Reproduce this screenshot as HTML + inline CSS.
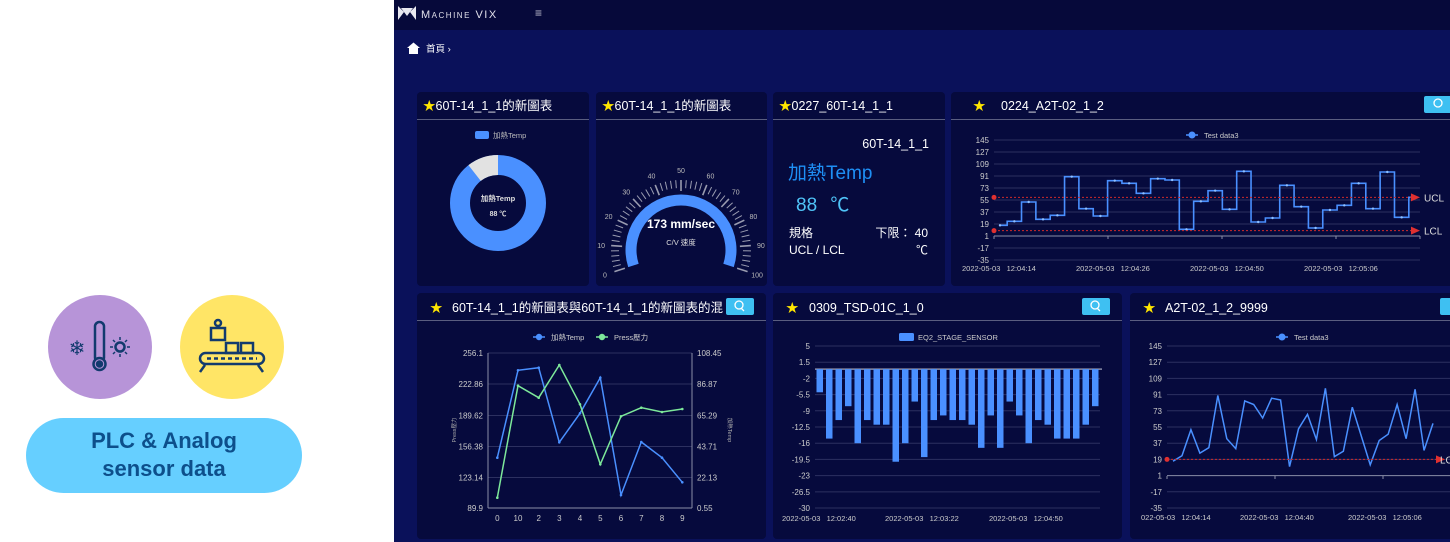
<!DOCTYPE html>
<html><head><meta charset="utf-8">
<style>
html,body{margin:0;padding:0;width:1450px;height:542px;overflow:hidden;background:#fff}
svg{display:block}
text{font-family:"Liberation Sans","Noto Sans CJK TC",sans-serif;white-space:pre}
</style></head>
<body>
<svg id="s" width="1450" height="542" viewBox="0 0 1450 542" xmlns="http://www.w3.org/2000/svg">
<rect x="0" y="0" width="394" height="542" fill="#fff"/>
<!-- left panel -->
<circle cx="100" cy="347" r="52" fill="#b794d8"/>
<circle cx="232" cy="347" r="52" fill="#ffe566"/>
<g stroke="#123a6e" stroke-width="2.5" fill="none">
<rect x="95" y="322" width="9" height="40" rx="4.5"/>
<circle cx="99.5" cy="364" r="6" fill="#b794d8"/>
<circle cx="99.5" cy="364" r="2.5" fill="#123a6e"/>
<circle cx="120" cy="347" r="4.5"/>
</g>
<g stroke="#123a6e" stroke-width="1.5">
<path d="M120 337 V340 M120 354 V357 M110 347 H113 M127 347 H130 M113 340 L115 342 M125 352 L127 354 M127 340 L125 342 M113 354 L115 352"/>
</g>
<text x="77" y="355" font-size="20" fill="#123a6e" text-anchor="middle">❄</text>
<g stroke="#123a6e" stroke-width="2.5" fill="none">
<rect x="211" y="328" width="14" height="12"/>
<rect x="226" y="343" width="12" height="10"/>
<rect x="241" y="343" width="12" height="10"/>
<rect x="200" y="353" width="64" height="11" rx="5.5"/>
<line x1="207" y1="358.5" x2="257" y2="358.5" stroke-dasharray="4 3"/>
<path d="M205 365 L200 372 M258 365 L263 372"/>
<circle cx="218" cy="323" r="3"/>
</g>
<rect x="26" y="418" width="276" height="75" rx="37.5" fill="#66cfff"/>
<text x="164" y="448" font-size="22" font-weight="bold" fill="#0d4f8b" text-anchor="middle">PLC &amp; Analog</text>
<text x="164" y="476" font-size="22" font-weight="bold" fill="#0d4f8b" text-anchor="middle">sensor data</text>

<!-- dashboard bg -->
<rect x="394" y="0" width="1056" height="542" fill="#0a115a"/>
<rect x="394" y="0" width="1056" height="30" fill="#06093a"/>
<path d="M398 6 L404 12 L398 20 Z M416 6 L410 12 L416 20 Z M401 8 L413 8 L407 16 Z" fill="#e8e8f0"/>
<text x="421" y="18" font-size="11" fill="#e0e0ea" letter-spacing="1.5">M<tspan font-size="8">ACHINE</tspan> VIX</text>
<text x="535" y="17" font-size="12" fill="#c0c0d0">≡</text>
<path d="M407 48 L413.5 42.5 L420 48 L418 48 L418 54 L409 54 L409 48 Z" fill="#fff"/>
<text x="426" y="52" font-size="9.5" fill="#fff">首頁 ›</text>

<!-- cards -->
<g fill="#060a3d">
<rect x="417" y="92" width="172" height="194" rx="4"/>
<rect x="596" y="92" width="171" height="194" rx="4"/>
<rect x="773" y="92" width="172" height="194" rx="4"/>
<rect x="951" y="92" width="505" height="194" rx="4"/>
<rect x="417" y="293" width="349" height="246" rx="4"/>
<rect x="773" y="293" width="349" height="246" rx="4"/>
<rect x="1130" y="293" width="326" height="246" rx="4"/>
</g>
<g stroke="#5a5e80" stroke-width="1">
<line x1="417" y1="119.5" x2="589" y2="119.5"/>
<line x1="596" y1="119.5" x2="767" y2="119.5"/>
<line x1="773" y1="119.5" x2="945" y2="119.5"/>
<line x1="951" y1="119.5" x2="1450" y2="119.5"/>
<line x1="417" y1="320.5" x2="766" y2="320.5"/>
<line x1="773" y1="320.5" x2="1122" y2="320.5"/>
<line x1="1130" y1="320.5" x2="1450" y2="320.5"/>
</g>
<g fill="#fff" font-size="12.5">
<text x="423" y="110"><tspan fill="#ffe600">★</tspan>60T-14_1_1的新圖表</text>
<text x="602" y="110"><tspan fill="#ffe600">★</tspan>60T-14_1_1的新圖表</text>
<text x="779" y="110"><tspan fill="#ffe600">★</tspan>0227_60T-14_1_1</text>
<text x="973" y="110"><tspan fill="#ffe600">★</tspan><tspan x="1001">0224_A2T-02_1_2</tspan></text>
<text x="430" y="312"><tspan fill="#ffe600">★</tspan><tspan x="452">60T-14_1_1的新圖表與60T-14_1_1的新圖表的混</tspan></text>
<text x="786" y="312"><tspan fill="#ffe600">★</tspan><tspan x="809">0309_TSD-01C_1_0</tspan></text>
<text x="1143" y="312"><tspan fill="#ffe600">★</tspan><tspan x="1165">A2T-02_1_2_9999</tspan></text>
</g>
<g fill="#3ec0f2">
<rect x="1424" y="96" width="30" height="17" rx="2"/>
<rect x="726" y="298" width="28" height="17" rx="2"/>
<rect x="1082" y="298" width="28" height="17" rx="2"/>
<rect x="1440" y="298" width="20" height="17" rx="2"/>
</g>
<g stroke="#fff" stroke-width="1.3" fill="none">
<circle cx="1438" cy="103" r="4"/><circle cx="739" cy="305" r="4"/><circle cx="1095" cy="305" r="4"/>
<path d="M741 308 L744 311 M1097 308 L1100 311"/>
</g>

<!-- card1 donut -->
<rect x="475" y="131" width="14" height="8" rx="2" fill="#4a90ff"/>
<text x="493" y="138" font-size="7.5" fill="#bbb">加熱Temp</text>
<circle cx="498" cy="203" r="38" fill="none" stroke="#4a90ff" stroke-width="20"/>
<path id="gray" fill="none" stroke="#e2e2e2" stroke-width="20"/>
<text x="498" y="201" font-size="7.5" font-weight="bold" fill="#ddd" text-anchor="middle">加熱Temp</text>
<text x="498" y="216" font-size="7" font-weight="bold" fill="#ddd" text-anchor="middle">88 ℃</text>

<!-- card2 gauge -->
<g id="gauge"></g>
<text x="681" y="228" font-size="12" font-weight="bold" fill="#fff" text-anchor="middle">173 mm/sec</text>
<text x="681" y="245" font-size="7.5" fill="#ddd" text-anchor="middle">C/V 速度</text>

<!-- card3 -->
<text x="929" y="148" font-size="12.5" fill="#fff" text-anchor="end">60T-14_1_1</text>
<text x="788" y="179" font-size="19" fill="#1e8ff5">加熱Temp</text>
<text x="796" y="211" font-size="19" fill="#4fc3f7">88 <tspan dx="8">℃</tspan></text>
<text x="789" y="237" font-size="12" fill="#fff">規格</text>
<text x="928" y="237" font-size="12" fill="#fff" text-anchor="end">下限： 40</text>
<text x="789" y="254" font-size="12" fill="#fff">UCL / LCL</text>
<text x="928" y="254" font-size="12" fill="#fff" text-anchor="end">℃</text>

<g id="dyn"></g>
</svg>
<script>
var NS="http://www.w3.org/2000/svg",D=document.getElementById('dyn');
function el(t,a,p,txt){var e=document.createElementNS(NS,t);for(var k in a)e.setAttribute(k,a[k]);if(txt!==undefined)e.textContent=txt;(p||D).appendChild(e);return e;}
(function(){var cx=498,cy=203,r=38,a1=-38*Math.PI/180;var x1=cx+r*Math.sin(a1),y1=cy-r*Math.cos(a1);
document.getElementById('gray').setAttribute('d','M'+x1+' '+y1+' A'+r+' '+r+' 0 0 1 '+cx+' '+(cy-r));})();
(function(){var G=document.getElementById('gauge'),cx=681,cy=250,span=216;
function pt(ang,r){var a=(ang-90)*Math.PI/180;return [cx+r*Math.cos(a),cy+r*Math.sin(a)];}
var st=-108,en=108,r=50;var p1=pt(st,r),p2=pt(en,r);
el('path',{d:'M'+p1+' A'+r+' '+r+' 0 1 1 '+p2,fill:'none',stroke:'#4a90ff','stroke-width':11},G);
for(var i=0;i<=50;i++){var a=st+span*i/50,big=i%5==0;var q1=pt(a,big?59:62),q2=pt(a,70);
el('line',{x1:q1[0],y1:q1[1],x2:q2[0],y2:q2[1],stroke:'#9a9cb0','stroke-width':big?1.6:1},G);}
for(var j=0;j<=10;j++){var a=st+span*j/10,q=pt(a,80);el('text',{x:q[0],y:q[1]+3,'font-size':7,fill:'#bbb','text-anchor':'middle'},G,''+j*10);}
})();
var data=[17,23,52,26,32,90,42,31,84,80,65,87,85,11,53,69,41,98,22,28,77,45,13,40,47,80,42,97,29,59];
(function(){var yv=function(v){return 140+(145-v)*0.6667;};var L=[145,127,109,91,73,55,37,19,1,-17,-35];
L.forEach(function(v){var y=yv(v);el('line',{x1:994,y1:y,x2:1420,y2:y,stroke:v==1?'#8a8ea8':'#2c3060','stroke-width':1});
el('text',{x:989,y:y+3,'font-size':8,fill:'#ccc','text-anchor':'end'},D,''+v);});
[994,1108,1222,1336,1420].forEach(function(x){el('line',{x1:x,y1:236,x2:x,y2:239,stroke:'#8a8ea8'});});
var x0=1000,dx=(1416-1000)/29,d='';
data.forEach(function(v,i){var x=x0+i*dx,y=yv(v);if(i==0)d='M'+x+' '+y;else{var xm=x-dx/2;d+=' H'+xm+' V'+y+' H'+x;}});
el('path',{d:d,fill:'none',stroke:'#4a90ff','stroke-width':1.6});
data.forEach(function(v,i){el('circle',{cx:x0+i*dx,cy:yv(v),r:1.2,fill:'#8fc0ff'});});
[[59,'UCL'],[9,'LCL']].forEach(function(u){var y=yv(u[0]);el('line',{x1:994,y1:y,x2:1414,y2:y,stroke:'#d02a2a','stroke-width':1,'stroke-dasharray':'2 2'});
el('circle',{cx:994,cy:y,r:2.5,fill:'#e03030'});el('path',{d:'M1411 '+(y-4)+' L1420 '+y+' L1411 '+(y+4)+' Z',fill:'#e03030'});
el('text',{x:1424,y:y+4,'font-size':10,fill:'#ddd'},D,u[1]);});
el('line',{x1:1186,y1:135,x2:1198,y2:135,stroke:'#4a90ff','stroke-width':1.5});el('circle',{cx:1192,cy:135,r:3.5,fill:'#4a90ff'});
el('text',{x:1204,y:138,'font-size':7.5,fill:'#ccc'},D,'Test data3');
[[962,'2022-05-03   12:04:14'],[1076,'2022-05-03   12:04:26'],[1190,'2022-05-03   12:04:50'],[1304,'2022-05-03   12:05:06']].forEach(function(t){el('text',{x:t[0],y:271,'font-size':7.5,fill:'#ccc',style:'white-space:pre'},D,t[1]);});
})();
(function(){var yv=function(v){return 346+(145-v)*0.9;};var L=[145,127,109,91,73,55,37,19,1,-17,-35];
L.forEach(function(v){var y=yv(v);el('line',{x1:1167,y1:y,x2:1450,y2:y,stroke:v==1?'#8a8ea8':'#2c3060'});
el('text',{x:1162,y:y+3,'font-size':8,fill:'#ccc','text-anchor':'end'},D,''+v);});
[1167,1275,1383].forEach(function(x){el('line',{x1:x,y1:476,x2:x,y2:479,stroke:'#8a8ea8'});});
var x0=1173,dx=(1433-1173)/29,pts=data.map(function(v,i){return (x0+i*dx)+','+yv(v);});
el('polyline',{points:pts.join(' '),fill:'none',stroke:'#4a90ff','stroke-width':1.5});
var y=yv(19);el('line',{x1:1167,y1:y,x2:1440,y2:y,stroke:'#d02a2a','stroke-dasharray':'2 2'});el('circle',{cx:1167,cy:y,r:2.5,fill:'#e03030'});
el('path',{d:'M1436 '+(y-4)+' L1445 '+y+' L1436 '+(y+4)+' Z',fill:'#e03030'});el('text',{x:1440,y:y+4,'font-size':10,fill:'#ddd'},D,'LCL');
el('line',{x1:1276,y1:337,x2:1288,y2:337,stroke:'#4a90ff','stroke-width':1.5});el('circle',{cx:1282,cy:337,r:3.5,fill:'#4a90ff'});
el('text',{x:1294,y:340,'font-size':7.5,fill:'#ccc'},D,'Test data3');
[[1141,'022-05-03   12:04:14'],[1240,'2022-05-03   12:04:40'],[1348,'2022-05-03   12:05:06']].forEach(function(t){el('text',{x:t[0],y:520,'font-size':7.5,fill:'#ccc',style:'white-space:pre'},D,t[1]);});
})();
(function(){var b=[-5,-15,-11,-8,-16,-11,-12,-12,-20,-16,-7,-19,-11,-10,-11,-11,-12,-17,-10,-17,-7,-10,-16,-11,-12,-15,-15,-15,-12,-8];
var yv=function(v){return 346+(5-v)*4.629;};[5,1.5,-2,-5.5,-9,-12.5,-16,-19.5,-23,-26.5,-30].forEach(function(v){var y=yv(v);
el('line',{x1:815,y1:y,x2:1100,y2:y,stroke:'#2c3060'});el('text',{x:810,y:y+3,'font-size':8,fill:'#ccc','text-anchor':'end'},D,''+v);});
el('line',{x1:815,y1:yv(0),x2:1102,y2:yv(0),stroke:'#8a8ea8','stroke-width':1.5});
var dx=(1100-815)/30;b.forEach(function(v,i){var x=815+i*dx+1.5;el('rect',{x:x,y:yv(0),width:dx-3,height:yv(v)-yv(0),fill:'#4a90ff'});});
el('rect',{x:899,y:333,width:15,height:8,rx:1.5,fill:'#4a90ff'});el('text',{x:918,y:340,'font-size':7.5,fill:'#ccc'},D,'EQ2_STAGE_SENSOR');
[[782,'2022-05-03   12:02:40'],[885,'2022-05-03   12:03:22'],[989,'2022-05-03   12:04:50']].forEach(function(t){el('text',{x:t[0],y:521,'font-size':7.5,fill:'#ccc',style:'white-space:pre'},D,t[1]);});
})();
(function(){var ys=[353,384,415.5,446.5,477.5,508],Ll=['256.1','222.86','189.62','156.38','123.14','89.9'],Rl=['108.45','86.87','65.29','43.71','22.13','0.55'];
ys.forEach(function(y,i){el('line',{x1:488,y1:y,x2:692,y2:y,stroke:i==5?'#8a8ea8':'#2c3060'});
el('text',{x:483,y:y+3,'font-size':8,fill:'#ccc','text-anchor':'end'},D,Ll[i]);el('text',{x:697,y:y+3,'font-size':8,fill:'#ccc'},D,Rl[i]);});
el('line',{x1:488,y1:353,x2:488,y2:508,stroke:'#8a8ea8'});el('line',{x1:692,y1:353,x2:692,y2:508,stroke:'#8a8ea8'});
var xs=[497.3,518,538.7,559.3,580,600.3,621,641.3,662,682.3],lab=['0','10','2','3','4','5','6','7','8','9'];
var bl=[457.7,370.3,367.7,442.3,413.3,377.7,495,442,457.7,482.3],gr=[497.7,385.7,397.7,365,404.3,464.3,416.3,407.7,412,409];
xs.forEach(function(x,i){el('text',{x:x,y:521,'font-size':8,fill:'#ccc','text-anchor':'middle'},D,lab[i]);});
[[bl,'#4a90ff'],[gr,'#7de89a']].forEach(function(s){el('polyline',{points:xs.map(function(x,i){return x+','+s[0][i];}).join(' '),fill:'none',stroke:s[1],'stroke-width':1.5});
xs.forEach(function(x,i){el('circle',{cx:x,cy:s[0][i],r:1.3,fill:s[1]});});});
el('line',{x1:533,y1:337,x2:545,y2:337,stroke:'#4a90ff','stroke-width':1.5});el('circle',{cx:539,cy:337,r:3.2,fill:'#4a90ff'});
el('text',{x:551,y:340,'font-size':7.5,fill:'#ccc'},D,'加熱Temp');
el('line',{x1:596,y1:337,x2:608,y2:337,stroke:'#7de89a','stroke-width':1.5});el('circle',{cx:602,cy:337,r:3.2,fill:'#7de89a'});
el('text',{x:614,y:340,'font-size':7.5,fill:'#ccc'},D,'Press壓力');
el('text',{x:0,y:0,'font-size':5.5,fill:'#aaa',transform:'translate(456,430) rotate(-90)','text-anchor':'middle'},D,'Press壓力');
el('text',{x:0,y:0,'font-size':5.5,fill:'#aaa',transform:'translate(728,430) rotate(90)','text-anchor':'middle'},D,'加熱Temp');
})();
</script>
</body></html>
